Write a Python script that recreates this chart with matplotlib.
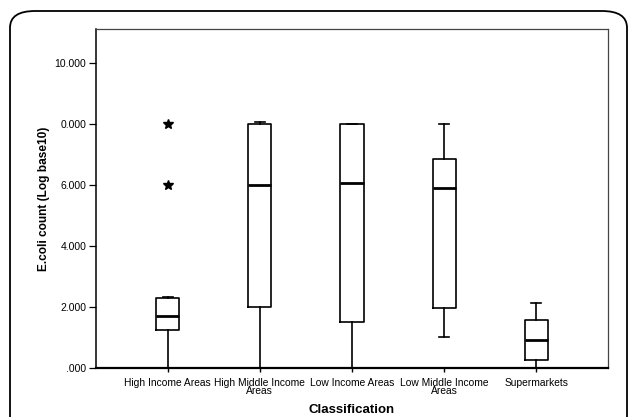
import matplotlib
matplotlib.use('Agg')
import matplotlib.pyplot as plt
from matplotlib.patches import FancyBboxPatch

# Data (Log10 E. coli counts)
categories = ["High Income Areas", "High Middle Income\nAreas", "Low Income Areas",
              "Low Middle Income\nAreas", "Supermarkets"]
whisker_low = [0.0, 0.0, 0.0, 1.01, 0.0]
q1 = [1.23, 2.0, 1.5, 1.97, 0.27]
medians = [1.71, 6.0, 6.07, 5.9, 0.93]
q3 = [2.29, 8.0, 8.0, 6.85, 1.56]
whisker_high = [2.33, 8.07, 8.0, 8.0, 2.14]
outliers = [[6.0, 8.0], [], [], [], []]

ytick_values = [0, 2, 4, 6, 8, 10]
ytick_labels = [".000", "2.000", "4.000", "6.000", "0.000", "10.000"]

plt.rcParams['font.family'] = ['Liberation Sans', 'DejaVu Sans']

fig = plt.figure(figsize=(6.29, 4.17), dpi=100)
ax = fig.add_axes([96 / 629, 1 - 368 / 417, 512 / 629, 339 / 417])

# rounded frame around the figure, bottom edge runs off the image
frame = FancyBboxPatch((10 / 629, -0.2), 617 / 629, 1.2 - 11 / 417,
                       boxstyle="round,pad=0,rounding_size=0.04",
                       transform=fig.transFigure, fill=False,
                       edgecolor='black', linewidth=1.3, zorder=-1)
fig.patches.append(frame)

stats = []
for i in range(len(categories)):
    stats.append({
        'whislo': whisker_low[i], 'q1': q1[i], 'med': medians[i],
        'q3': q3[i], 'whishi': whisker_high[i], 'fliers': outliers[i],
    })

positions = list(range(1, len(categories) + 1))
ax.bxp(stats, positions=positions, widths=0.25, showfliers=True,
       boxprops=dict(color='black', linewidth=1.2),
       whiskerprops=dict(color='black', linewidth=1.2),
       capprops=dict(color='black', linewidth=1.2),
       medianprops=dict(color='black', linewidth=2.0),
       flierprops=dict(marker='*', markerfacecolor='black',
                       markeredgecolor='black', markersize=7.5),
       capwidths=0.11)

ax.set_xlim(0.22, 5.78)
ax.set_ylim(0, 11.1)
ax.set_yticks(ytick_values)
ax.set_yticklabels(ytick_labels, fontsize=7.5)
ax.set_xticks(positions)
ax.set_xticklabels(categories, fontsize=7.4, linespacing=0.75)
ax.tick_params(axis='y', direction='out', length=5, width=0.9, pad=2)
ax.tick_params(axis='x', direction='out', length=3, width=1.0, pad=4)

for side in ['top', 'right']:
    ax.spines[side].set_linewidth(0.9)
    ax.spines[side].set_color('#444444')
ax.spines['left'].set_linewidth(1.1)
ax.spines['bottom'].set_linewidth(1.6)

ax.set_ylabel("E.coli count (Log base10)", fontsize=8.6, fontweight='bold', labelpad=3)
ax.set_xlabel("Classification", fontsize=9.5, fontweight='bold', labelpad=6)

fig.savefig('out.png', dpi=100)
